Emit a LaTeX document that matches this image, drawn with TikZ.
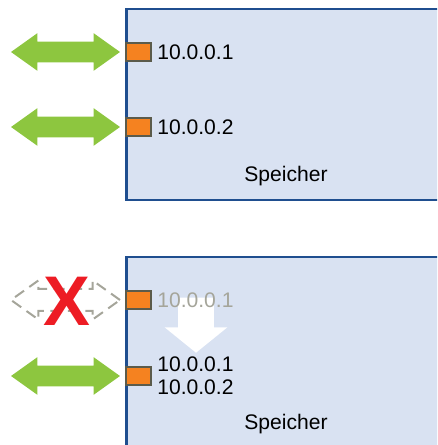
\documentclass[tikz,border=0pt]{standalone}
\usepackage{fontspec}
\setmainfont{Liberation Sans}
\usetikzlibrary{shapes.arrows}
\definecolor{boxfill}{HTML}{D9E2F2}
\definecolor{boxline}{HTML}{1F4E8F}
\definecolor{portfill}{HTML}{F58220}
\definecolor{portline}{HTML}{5B5B4B}
\definecolor{linkgreen}{HTML}{8DC63F}
\definecolor{deadgrey}{HTML}{A5A59A}
\definecolor{crossred}{HTML}{ED1C24}
\begin{document}
\begin{tikzpicture}[
  x=0.02cm, y=0.02cm,
  box/.style={
    draw=boxline,
    fill=boxfill,
    line width=0.05cm
  },
  port/.style={
    draw=portline,
    fill=portfill,
    line width=0.045cm,
    minimum width=0.5cm,
    minimum height=0.36cm,
    inner sep=0pt
  },
  link/.style={
    double arrow,
    fill=linkgreen,
    minimum height=2.18cm,
    inner xsep=0pt,
    inner ysep=0.2cm,
    double arrow head extend=0.17cm,
    double arrow tip angle=71
  },
  deadlink/.style={
    link,
    fill=none,
    draw=deadgrey,
    line width=0.04cm,
    dash pattern=on 0.22cm off 0.13cm
  },
  addr/.style={
    anchor=west,
    inner sep=0pt,
    align=left,
    font=\fontsize{12}{13}\selectfont
  },
  label/.style={
    inner sep=0pt,
    font=\fontsize{12}{13}\selectfont
  }
]
\clip (0,0) rectangle (437,445);

% upper state
\node[box, minimum width=6.7cm, minimum height=3.82cm, anchor=north west] (mem1) at (125,437) {};
\node[label] (mem1lbl) at (286,269) {Speicher};
\node[port] (p1) at (138.5,393) {};
\node[port] (p2) at (138.5,318) {};
\node[addr] (a1) at (157,393) {10.0.0.1};
\node[addr] (a2) at (157,318) {10.0.0.2};
\node[link] (l1) at (65.5,393) {};
\node[link] (l2) at (65.5,318) {};

% lower state
\node[box, minimum width=6.7cm, minimum height=4.4cm, anchor=north west] (mem2) at (125,189) {};
\node[label] (mem2lbl) at (286,21) {Speicher};
\node[port] (p3) at (138.5,145) {};
\node[port] (p4) at (138.5,69) {};
\node[single arrow, fill=white, rotate=-90, minimum height=1.1cm,
  inner xsep=0pt, inner ysep=0.35cm, single arrow head extend=0.27cm,
  single arrow tip angle=102] (move) at (196,127) {};
\node[addr, text=deadgrey] (a3) at (157,145) {10.0.0.1};
\node[addr] (a4) at (157,69) {10.0.0.1\\10.0.0.2};
\node[deadlink] (l3) at (65.5,145) {};
\node[link] (l4) at (65.5,69) {};
\node[text=crossred, inner sep=0pt, font=\fontsize{40}{40}\selectfont\bfseries] (cross) at (67,144) {X};
\end{tikzpicture}
\end{document}
